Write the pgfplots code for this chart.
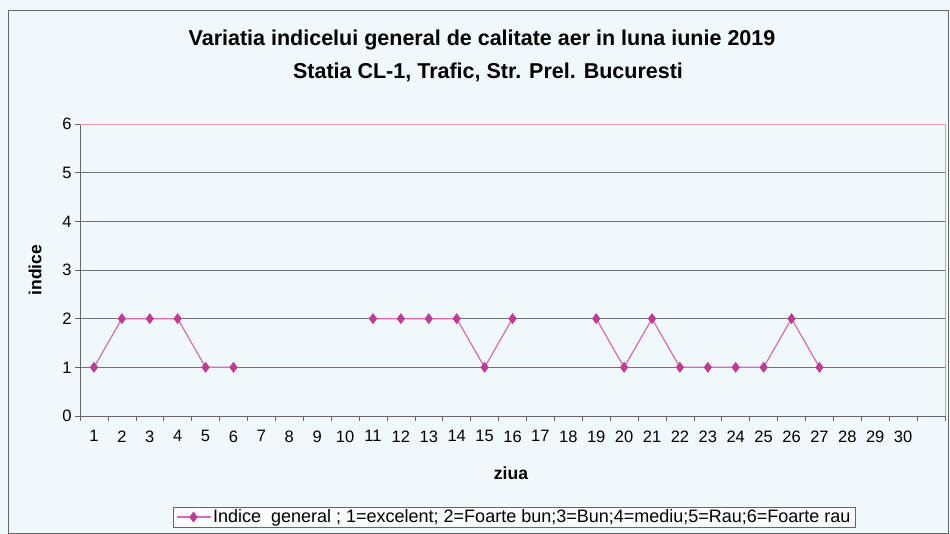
\documentclass[border=0pt]{standalone}
\usepackage{fontspec}
\setmainfont{Liberation Sans}
\usepackage{pgfplots}
\pgfplotsset{compat=1.18}
\definecolor{bg}{RGB}{240,248,252}
\definecolor{ln}{RGB}{208,110,175}
\definecolor{mk}{RGB}{192,58,148}
\definecolor{bord}{RGB}{240,150,150}
\begin{document}
\begin{tikzpicture}[x=1pt,y=1pt]
\fill[bg] (0,0) rectangle (950,534);
\useasboundingbox (0,0) rectangle (950,534);
\draw[black!60, line width=0.8pt] (8,0.5) rectangle (948.5,524);
\node[font=\bfseries\fontsize{21.5}{25}\selectfont] at (482,494) {Variatia indicelui general de calitate aer in luna iunie 2019};
\node[font=\bfseries\fontsize{21.5}{25}\selectfont] at (488,462) {Statia CL-1, Trafic, Str. Prel. Bucuresti};
\node[rotate=90, font=\bfseries\fontsize{17.5}{20}\selectfont] at (35,264) {indice};
\node[font=\bfseries\fontsize{17.5}{20}\selectfont] at (511,61) {ziua};
\begin{axis}[
  at={(80pt,118pt)}, anchor=south west,
  width=865pt, height=292pt, scale only axis,
  xmin=0.5, xmax=31.5, ymin=0, ymax=6,
  ytick={0,1,2,3,4,5,6},
  xtick={0.5,1.5,...,31.5},
  x tick label as interval,
  xticklabels={1,2,3,4,5,6,7,8,9,10,11,12,13,14,15,16,17,18,19,20,21,22,23,24,25,26,27,28,29,30,{}},
  xtick pos=left, ytick pos=left,
  tick align=outside, major tick length=5pt,
  tick style={black!60, line width=0.6pt},
  axis line style={black!60, line width=0.8pt},
  ymajorgrids, grid style={black!55, line width=0.7pt},
  axis background/.style={fill=bg},
  tick label style={font=\fontsize{16.5}{19}\selectfont},
  x tick label style={yshift=-6pt},
  /pgf/number format/assume math mode=true,
  unbounded coords=jump,
  legend style={at={(0.502,-0.346)}, anchor=center, draw=black!60, fill=white!60!bg,
    font=\fontsize{18}{20}\selectfont, inner xsep=3pt, inner ysep=1pt},
  legend image code/.code={\draw[mark repeat=2,mark phase=2,#1] plot coordinates {(0pt,0pt) (17pt,0pt) (34pt,0pt)};},
  after end axis/.code={\draw[bord, line width=0.9pt] (rel axis cs:0,1) -- (rel axis cs:1,1) -- (rel axis cs:1,0);},
]
\addplot[ln, line width=1.2pt, mark=diamond*, mark size=4.5pt, mark options={fill=mk, draw=mk}]
coordinates {
(1,1) (2,2) (3,2) (4,2) (5,1) (6,1) (7,nan) (8,nan) (9,nan) (10,nan)
(11,2) (12,2) (13,2) (14,2) (15,1) (16,2) (17,nan) (18,nan)
(19,2) (20,1) (21,2) (22,1) (23,1) (24,1) (25,1) (26,2) (27,1)
(28,nan) (29,nan) (30,nan)
};
\addlegendentry{Indice\ \ general ; 1=excelent; 2=Foarte bun;3=Bun;4=mediu;5=Rau;6=Foarte rau}
\end{axis}
\end{tikzpicture}
\end{document}
